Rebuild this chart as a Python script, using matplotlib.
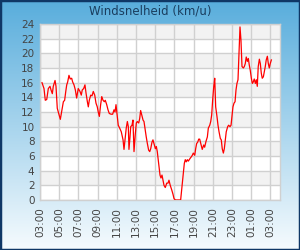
import numpy as np
import matplotlib
matplotlib.use("Agg")
import matplotlib.pyplot as plt
import matplotlib.dates as mdates
from matplotlib.patches import Rectangle
from datetime import datetime, timedelta

title = "Windsnelheid (km/u)"
start = datetime(2024, 1, 1, 3, 0)

minutes = [12.5, 25, 33, 42, 52, 62.5, 69, 77, 83, 94, 100, 108, 117, 127, 137.5, 146, 154, 161, 167,
           173, 181, 189, 198, 204, 212.5, 221, 229, 239, 250, 258, 264, 273, 281, 287.5, 296, 302,
           308, 317, 325, 333, 342, 350, 358, 364, 371, 379, 386, 394, 402, 408, 417, 425, 433, 444,
           454, 462.5, 469, 475, 483, 489, 498, 508, 519, 525, 533, 539, 546, 552, 556, 562.5, 567,
           575, 581, 587.5, 596, 602, 608, 617, 623, 629, 636, 644, 650, 658, 664, 671, 679, 686,
           692, 700, 706, 712.5, 721, 727, 733, 739, 746, 750, 756, 762.5, 769, 775, 783, 792, 800,
           806, 814, 823, 831, 837.5, 846, 854, 862.5, 871, 879, 887.5, 896, 902, 908, 914, 921,
           927, 933, 939, 946, 952, 958, 967, 973, 979, 986, 992, 998, 1008, 1014, 1023, 1029,
           1037.5, 1046, 1052, 1061, 1067, 1073, 1079, 1086, 1092, 1098, 1106, 1112.5, 1119, 1127,
           1133, 1139, 1146, 1152, 1158, 1164, 1173, 1179, 1187.5, 1194, 1200, 1206, 1212.5, 1219,
           1225, 1231, 1237.5, 1250, 1256, 1262.5, 1271, 1277, 1283, 1289, 1296, 1302, 1308, 1314,
           1321, 1327, 1333, 1339, 1346, 1352, 1358, 1364, 1371, 1377, 1383, 1389, 1396, 1402,
           1408, 1414, 1421, 1427, 1433, 1439, 1446]

speed = [16.0, 15.2, 13.6, 13.7, 15.2, 15.5, 15.0, 14.5, 15.5, 16.3, 15.5, 12.5, 11.8, 11.0, 12.3,
         13.4, 13.6, 14.8, 15.7, 16.1, 17.0, 16.5, 16.6, 16.1, 15.7, 15.0, 13.9, 15.2, 14.8, 14.3,
         15.0, 15.2, 15.7, 14.6, 13.4, 12.7, 13.6, 14.3, 14.2, 14.8, 14.3, 13.2, 12.7, 12.0, 11.4,
         13.0, 14.1, 13.6, 13.4, 13.6, 13.0, 12.3, 11.8, 11.7, 11.7, 12.3, 12.0, 13.0, 11.4, 10.2,
         9.8, 9.3, 8.2, 6.9, 8.6, 9.8, 10.7, 10.0, 6.9, 8.6, 10.0, 10.2, 10.9, 6.6, 9.1, 10.5,
         10.7, 10.5, 11.1, 12.2, 11.6, 10.9, 10.7, 9.5, 8.6, 7.7, 6.8, 6.6, 7.0, 7.9, 8.2, 7.7,
         7.0, 7.3, 6.6, 5.5, 4.2, 3.4, 3.0, 3.4, 2.7, 2.0, 1.7, 2.3, 2.3, 2.7, 2.0, 1.4, 0.8, 0.2,
         0.0, 0.0, 0.0, 0.0, 0.0, 1.8, 3.6, 5.0, 5.5, 5.2, 5.5, 5.3, 5.5, 5.7, 5.9, 6.1, 6.4, 6.1,
         7.0, 7.7, 7.9, 8.3, 8.3, 7.4, 6.9, 7.5, 7.2, 8.0, 8.6, 9.8, 10.2, 10.7, 11.6, 13.6, 15.5,
         16.6, 12.7, 11.4, 10.2, 9.3, 8.4, 8.2, 7.0, 6.4, 7.0, 8.2, 9.3, 10.0, 10.2, 10.0, 10.2,
         11.4, 12.7, 13.2, 13.4, 15.0, 15.9, 16.4, 23.6, 21.8, 18.2, 18.0, 18.2, 18.6, 19.5, 18.9,
         19.3, 18.4, 17.7, 16.6, 15.9, 16.1, 16.5, 15.9, 16.4, 15.5, 18.2, 19.2, 18.6, 17.3, 16.6,
         16.8, 17.5, 18.2, 19.1, 19.6, 18.6, 18.0, 18.6, 19.1]

yticks = list(range(0, 25, 2))

times = [start + timedelta(minutes=m) for m in minutes]

fig = plt.figure(figsize=(3.0, 2.5), dpi=100)

# gradient background
bg = fig.add_axes([0, 0, 1, 1], zorder=-10)
top = np.array([88, 173, 220]) / 255.0
bot = np.array([246, 251, 254]) / 255.0
t = np.linspace(0, 1, 256)[:, None]
grad = top * (1 - t) + bot * t
bg.imshow(grad[:, None, :], aspect="auto", extent=[0, 1, 0, 1])
bg.set_axis_off()
fig.patches.append(Rectangle((0, 0), 1, 1, transform=fig.transFigure, fill=False,
                             edgecolor="#0f3766", linewidth=2.5, zorder=10))

ax = fig.add_axes([40 / 300, 1 - 200 / 250, 240 / 300, 176 / 250])
ax.set_facecolor("white")
for k, y0 in enumerate(yticks[:-1]):
    if k % 2 == 1:
        ax.axhspan(y0, y0 + 2, color="#f2f2f2", zorder=0, lw=0)

ax.plot(times, speed, color="#ff0000", lw=0.9, zorder=3)

x0 = start
x1 = start + timedelta(hours=25)
ax.set_xlim(x0, x1)
ax.set_ylim(0, 24)
ax.set_yticks(yticks)
ax.xaxis.set_major_locator(mdates.HourLocator(byhour=range(1, 24, 2)))
ax.xaxis.set_major_formatter(mdates.DateFormatter("%H:%M"))
ax.grid(True, color="#d0d0d0", lw=1, zorder=1)
ax.set_axisbelow(True)
for s in ax.spines.values():
    s.set_color("#d0d0d0")
    s.set_linewidth(1)
ax.tick_params(length=0, labelsize=7.5, labelcolor="#444444", pad=4)
ax.tick_params(axis="x", rotation=90, pad=5)

fig.text(0.5, 1 - 11 / 250, title, ha="center", va="center", fontsize=8.5, color="#1a3d5e")

fig.savefig("out.png", dpi=100)
